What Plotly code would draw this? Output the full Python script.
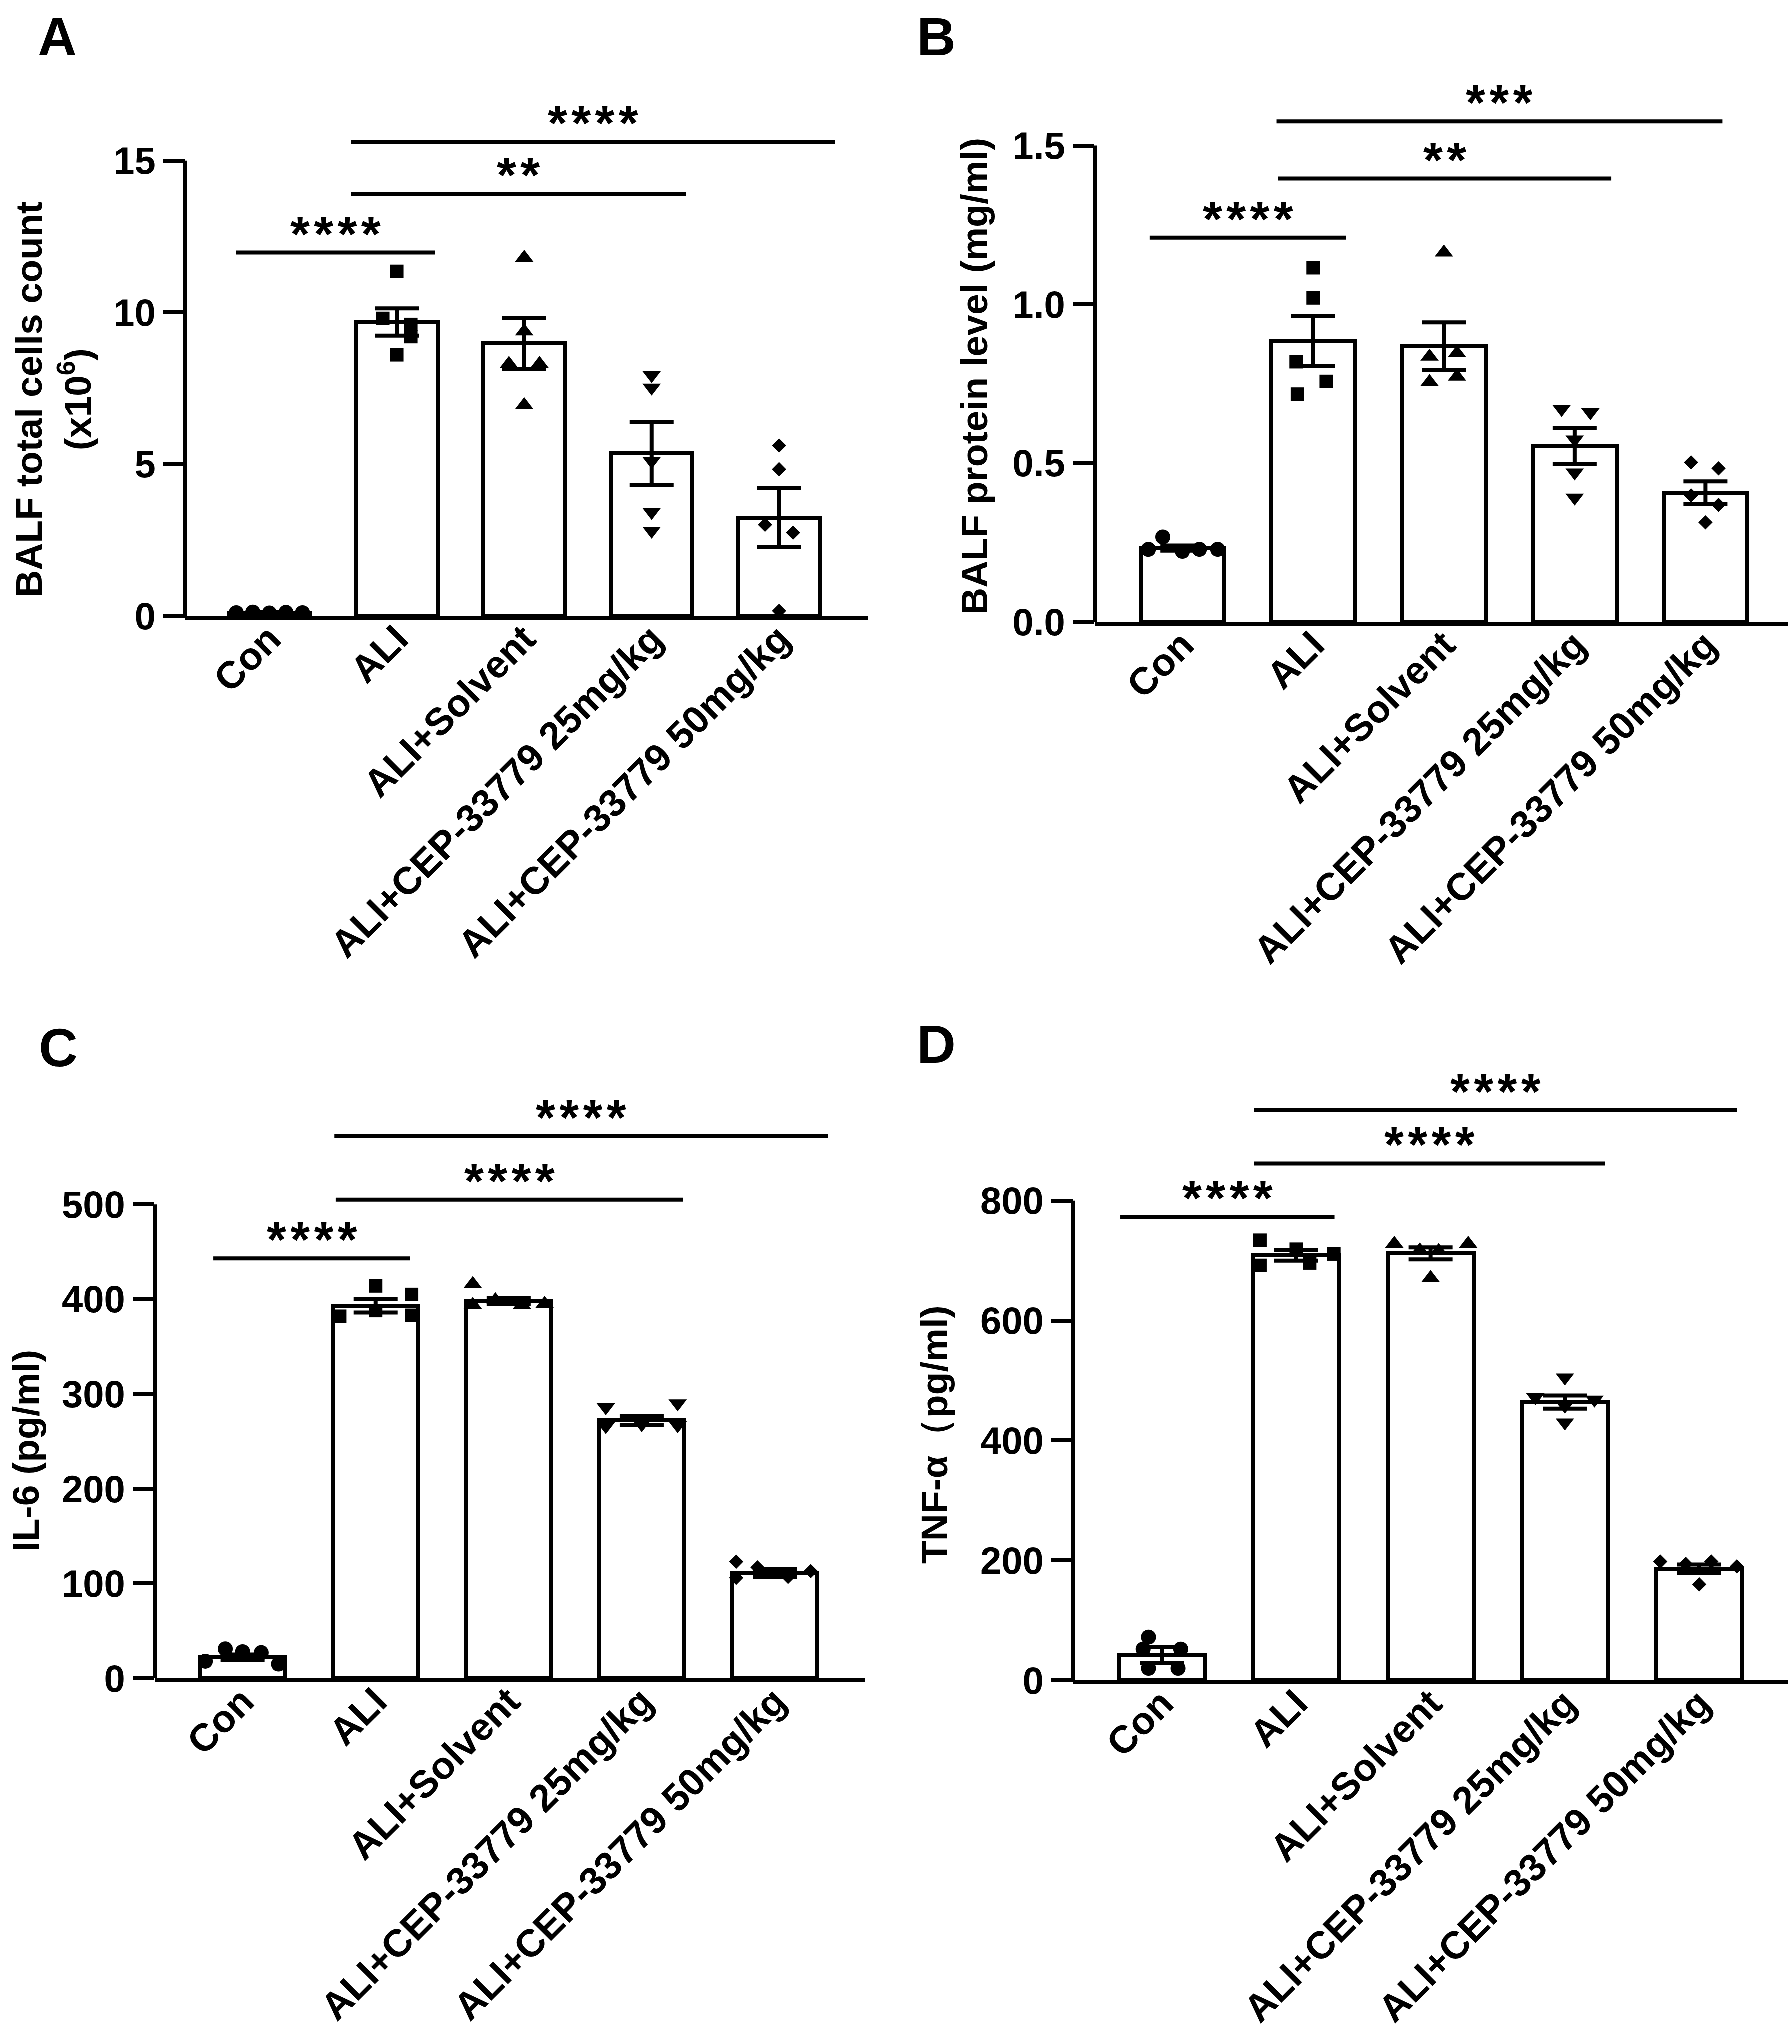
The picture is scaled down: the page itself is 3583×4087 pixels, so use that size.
import plotly.graph_objects as go

W, H = 3583, 4087
FONT = "Liberation Sans, Arial, sans-serif"

GROUPS = ["Con", "ALI", "ALI+Solvent", "ALI+CEP-33779 25mg/kg", "ALI+CEP-33779 50mg/kg"]
SYMBOLS = ["circle", "square", "triangle-up", "triangle-down", "diamond"]
SIZES = [30, 27, 32, 32, 22]

# A: BALF total cells count (x10^6)
A_MEAN = [0.10, 9.68, 8.98, 5.35, 3.23]
A_SEM = [0.02, 0.45, 0.84, 1.04, 0.97]
A_PTS = [
    [0.10, 0.12, 0.09, 0.11, 0.10],
    [11.35, 9.80, 9.60, 9.20, 8.60],
    [11.80, 9.37, 8.30, 8.30, 6.94],
    [7.93, 7.52, 5.10, 3.42, 2.80],
    [5.61, 4.83, 3.00, 2.74, 0.16],
]
A_TICKS = [0, 5, 10, 15]
A_TICKTEXT = ["0", "5", "10", "15"]
A_SIG = [(-0.26, 1.30, 11.97, "****"), (0.64, 3.27, 13.9, "**"), (0.64, 4.44, 15.62, "****")]

# B: BALF protein level (mg/ml)
B_MEAN = [0.232, 0.884, 0.868, 0.553, 0.406]
B_SEM = [0.008, 0.079, 0.075, 0.057, 0.036]
B_PTS = [
    [0.228, 0.267, 0.222, 0.228, 0.228],
    [1.115, 1.020, 0.819, 0.757, 0.717],
    [1.163, 0.835, 0.846, 0.755, 0.772],
    [0.670, 0.660, 0.574, 0.470, 0.391],
    [0.502, 0.483, 0.398, 0.368, 0.313],
]
B_TICKS = [0, 0.5, 1.0, 1.5]
B_TICKTEXT = ["0.0", "0.5", "1.0", "1.5"]
B_SIG = [(-0.25, 1.25, 1.21, "****"), (0.73, 3.28, 1.396, "**"), (0.72, 4.13, 1.576, "***")]

# C: IL-6 (pg/ml)
C_MEAN = [22, 393, 398, 272, 111]
C_SEM = [3, 7, 3, 5, 4]
C_PTS = [
    [18, 31, 28, 27, 15],
    [382, 414, 388, 405, 383],
    [416, 394, 399, 394, 395],
    [286, 266, 268, 290, 267],
    [123, 106, 117, 107, 113],
]
C_TICKS = [0, 100, 200, 300, 400, 500]
C_TICKTEXT = ["0", "100", "200", "300", "400", "500"]
C_SIG = [(-0.22, 1.26, 443, "****"), (0.70, 3.31, 505, "****"), (0.69, 4.40, 572, "****")]

# D: TNF-α (pg/ml)
D_MEAN = [42, 709, 712, 464, 186]
D_SEM = [13, 9, 10, 11, 7]
D_PTS = [
    [72, 52, 52, 20, 20],
    [734, 692, 719, 696, 711],
    [728, 717, 716, 728, 671],
    [505, 472, 468, 458, 430],
    [198, 194, 198, 190, 160],
]
D_TICKS = [0, 200, 400, 600, 800]
D_TICKTEXT = ["0", "200", "400", "600", "800"]
D_SIG = [(-0.31, 1.285, 773, "****"), (0.685, 3.30, 862, "****"), (0.685, 4.28, 951, "****")]

# horizontal scatter of the dots inside each bar (category units)
A_JIT = [[-0.26, -0.13, 0, 0.13, 0.26], [0, -0.11, 0.11, 0.11, 0], [0, 0, -0.12, 0.12, 0],
         [0, 0, 0, 0, 0], [0, 0, -0.11, 0.11, 0]]
B_JIT = [[-0.26, -0.15, 0, 0.13, 0.27], [0, 0, -0.13, 0.1, -0.12], [0, -0.11, 0.1, -0.11, 0.1],
         [-0.1, 0.12, 0, 0, 0], [-0.11, 0.1, -0.11, 0.1, 0]]
C_JIT = [[-0.28, -0.13, 0, 0.14, 0.27], [-0.27, 0, 0, 0.27, 0.27], [-0.27, -0.27, -0.1, 0.1, 0.27],
         [-0.27, -0.27, 0, 0.27, 0.27], [-0.29, -0.29, -0.13, 0.1, 0.27]]
D_JIT = [[-0.1, -0.14, 0.14, -0.1, 0.12], [-0.27, -0.27, 0, 0.1, 0.28], [-0.27, -0.08, 0.06, 0.28, 0],
         [0, -0.22, 0.22, 0, 0], [-0.29, -0.1, 0.09, 0.28, 0]]

# layout per panel: plot area in pixels (left, right, bottom, top), title centre, letter position
PANELS = [
    dict(letter="A", mean=A_MEAN, sem=A_SEM, pts=A_PTS, jit=A_JIT, ticks=A_TICKS, ticktext=A_TICKTEXT,
         sig=A_SIG, title="BALF total cells count<br>(x10<sup>6</sup>)", ymax=17.5,
         px=(362, 1728, 1223, 161), xr=(-0.66, 4.70), tpos=(98, 790), lpos=(65, 64)),
    dict(letter="B", mean=B_MEAN, sem=B_SEM, pts=B_PTS, jit=B_JIT, ticks=B_TICKS, ticktext=B_TICKTEXT,
         sig=B_SIG, title="BALF protein level (mg/ml)", ymax=1.8,
         px=(2181, 3575, 1235, 92), xr=(-0.67, 4.66), tpos=(1940, 744), lpos=(1823, 64)),
    dict(letter="C", mean=C_MEAN, sem=C_SEM, pts=C_PTS, jit=C_JIT, ticks=C_TICKS, ticktext=C_TICKTEXT,
         sig=C_SIG, title="IL-6 (pg/ml)", ymax=650,
         px=(301, 1722, 3348, 2116), xr=(-0.66, 4.68), tpos=(43, 2893), lpos=(67, 2086)),
    dict(letter="D", mean=D_MEAN, sem=D_SEM, pts=D_PTS, jit=D_JIT, ticks=D_TICKS, ticktext=D_TICKTEXT,
         sig=D_SIG, title="TNF-α（pg/ml)", ymax=1080,
         px=(2138, 3578, 3352, 2057), xr=(-0.66, 4.70), tpos=(1860, 2860), lpos=(1823, 2079)),
]

LW = 8
fig = go.Figure()
shapes, annotations, axes = [], [], {}

for i, p in enumerate(PANELS):
    n = "" if i == 0 else str(i + 1)
    xa, ya = "x" + n, "y" + n
    cats = list(range(len(GROUPS)))

    fig.add_trace(go.Bar(x=cats, y=p["mean"], width=0.64, xaxis=xa, yaxis=ya,
                         marker=dict(color="white", line=dict(color="black", width=LW))))
    for g in cats:
        fig.add_trace(go.Scatter(x=[g + j for j in p["jit"][g]], y=p["pts"][g], mode="markers",
                                 xaxis=xa, yaxis=ya,
                                 marker=dict(symbol=SYMBOLS[g], size=SIZES[g], color="black")))
    fig.add_trace(go.Scatter(x=cats, y=p["mean"], mode="markers", xaxis=xa, yaxis=ya,
                             marker=dict(opacity=0, size=2),
                             error_y=dict(type="data", array=p["sem"], color="black",
                                          thickness=LW, width=44)))

    l, r, b, t = p["px"]
    axes["xaxis" + n] = dict(domain=[l / W, r / W], range=list(p["xr"]), anchor=ya,
                             tickmode="array", tickvals=cats, ticktext=GROUPS, tickangle=-45,
                             ticks="", ticklabelstandoff=-38, showline=True, linecolor="black",
                             linewidth=LW, showgrid=False, zeroline=False,
                             tickfont=dict(family=FONT, size=77, color="black", weight="bold"))
    axes["yaxis" + n] = dict(domain=[1 - b / H, 1 - t / H], range=[0, p["ymax"]], anchor=xa,
                             tickmode="array", tickvals=p["ticks"], ticktext=p["ticktext"],
                             ticks="outside", ticklen=43, tickwidth=LW, tickcolor="black",
                             showline=False, showgrid=False, zeroline=False,
                             tickfont=dict(family=FONT, size=76, color="black", weight="bold"))

    # y axis line only up to the top tick
    shapes.append(dict(type="line", xref=xa + " domain", yref=ya + " domain", x0=0, x1=0,
                       y0=0, y1=p["ticks"][-1] / p["ymax"], line=dict(color="black", width=LW)))

    for x0, x1, y, stars in p["sig"]:
        shapes.append(dict(type="line", xref=xa, yref=ya, x0=x0, x1=x1, y0=y, y1=y,
                           line=dict(color="black", width=LW)))
        annotations.append(dict(xref=xa, yref=ya, x=(x0 + x1) / 2, y=y, yanchor="bottom",
                                yshift=-20, showarrow=False, text="\u200a".join(stars),
                                font=dict(family=FONT, size=100, color="black", weight="bold")))

    tx, ty = p["tpos"]
    annotations.append(dict(xref="paper", yref="paper", x=tx / W, y=1 - ty / H, textangle=-90,
                            xanchor="center", yanchor="middle", showarrow=False, text=p["title"],
                            font=dict(family=FONT, size=75, color="black", weight="bold")))

    lx, ly = p["lpos"]
    annotations.append(dict(xref="paper", yref="paper", x=lx / W, y=1 - ly / H,
                            xanchor="left", yanchor="middle", showarrow=False, text=p["letter"],
                            font=dict(family=FONT, size=108, color="black", weight="bold")))

fig.update_layout(width=W, height=H, margin=dict(l=0, r=0, t=0, b=0), template="none",
                  paper_bgcolor="white", plot_bgcolor="white", showlegend=False,
                  bargap=0, shapes=shapes, annotations=annotations, **axes)

fig.write_html("out.html")
